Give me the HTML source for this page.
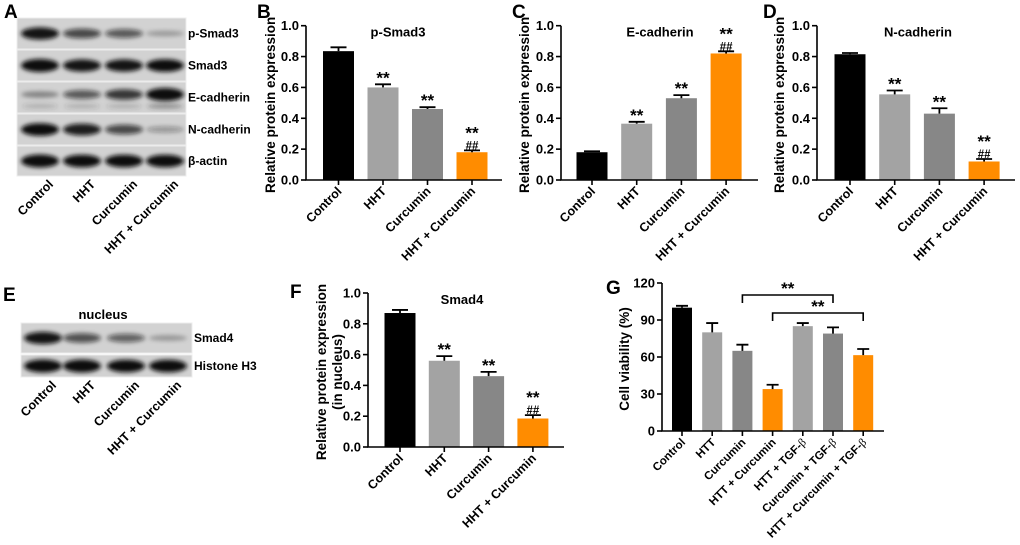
<!DOCTYPE html>
<html><head><meta charset="utf-8">
<style>
html,body{margin:0;padding:0;background:#fff;}
svg{display:block;font-family:"Liberation Sans",Arial,sans-serif;font-weight:bold;}
</style></head>
<body>
<svg id="fig" width="1020" height="545" viewBox="0 0 1020 545">
<defs>
<filter id="blur" x="-30%" y="-60%" width="160%" height="220%"><feGaussianBlur stdDeviation="2.2"/></filter>
</defs>
</svg>
<script>
// ===== Chart data =====
const groupsABCDF = ["Control","HHT","Curcumin","HHT + Curcumin"];
const pSmad3Vals = [0.835,0.60,0.46,0.18];
const pSmad3Err = [0.025,0.02,0.012,0.012];
const eCadVals = [0.18,0.365,0.53,0.82];
const eCadErr = [0.006,0.012,0.02,0.014];
const nCadVals = [0.815,0.555,0.43,0.12];
const nCadErr = [0.008,0.025,0.035,0.016];
const smad4Vals = [0.87,0.56,0.46,0.185];
const smad4Err = [0.02,0.03,0.028,0.022];
const yTicks01 = [0,0.2,0.4,0.6,0.8,1.0];
const groupsG = ["Control","HTT","Curcumin","HTT + Curcumin","HTT + TGF-\u03b2","Curcumin + TGF-\u03b2","HTT + Curcumin + TGF-\u03b2"];
const viabVals = [100,80,65,34,85,79,61.5];
const viabErr = [1.5,7.5,5,3.5,2.5,5,5];
const yTicksG = [0,30,60,90,120];

const NS="http://www.w3.org/2000/svg";
const svg=document.getElementById('fig');
function mk(tag,attrs,parent,txt){const e=document.createElementNS(NS,tag);for(const k in attrs)e.setAttribute(k,attrs[k]);if(txt!==undefined)e.textContent=txt;(parent||svg).appendChild(e);return e;}

const BLACK="#000",LG="#a3a3a3",DG="#878787",OR="#ff8c00";

function barChart(o){
  const g=mk('g',{});
  
  
  const ymax=o.ticks[o.ticks.length-1];
  const Y=v=>o.y0-(v/ymax)*(o.y0-o.y1);
  const X=i=>o.firstX+i*o.step;
  o.vals.forEach((v,i)=>{
    const b=mk('rect',{x:X(i)-o.bw/2,y:Y(v),width:o.bw,height:o.y0-Y(v),fill:o.colors[i]},g);
    
    
    const et=Y(v+o.err[i]);
    const e=mk('path',{d:`M${X(i)},${Y(v)}V${et}M${X(i)-o.cap},${et}H${X(i)+o.cap}`,stroke:'#000','stroke-width':1.8,fill:'none'},g);
    
    
    if(o.sig&&o.sig[i]){
      const two=o.sig2&&o.sig2[i];
      const s=mk('text',{x:X(i),y:et-(two?12:1),'text-anchor':'middle','font-size':17},g,o.sig[i]);
      
      
      if(two){
        const s2=mk('text',{x:X(i),y:et-1,'text-anchor':'middle','font-size':11.5},g,o.sig2[i]);
        
        
      }
    }
  });
  const ax=mk('path',{d:`M${o.ax},${o.y1}V${o.y0}H${o.xend}`,stroke:'#000','stroke-width':1.6,fill:'none'},g);
  
  
  o.ticks.forEach(t=>{
    mk('line',{x1:o.ax-5,x2:o.ax,y1:Y(t),y2:Y(t),stroke:'#000','stroke-width':1.6},g);
    const tl=mk('text',{x:o.ax-7,y:Y(t)+4.5,'text-anchor':'end','font-size':13},g,o.fmt(t));
    
    
  });
  o.cats.forEach((c,i)=>{
    mk('line',{x1:X(i),x2:X(i),y1:o.y0,y2:o.y0+5,stroke:'#000','stroke-width':1.6},g);
    const t=mk('text',{x:0,y:0,'text-anchor':'end','font-size':o.xfs||12.5,transform:`translate(${X(i)+4},${o.y0+12}) rotate(-45)`},g);
    
    
    const parts=c.split('\u03b2');
    t.textContent=parts[0];
    if(parts.length>1){mk('tspan',{'font-weight':'normal','font-family':'"Liberation Serif",serif'},t,'\u03b2');}
  });
  if(o.title){const t=mk('text',{x:o.titleX,y:o.y1+11,'text-anchor':'middle','font-size':13},g,o.title);
    }
  const yt=mk('text',{x:0,y:0,'text-anchor':'middle','font-size':13.5,transform:`translate(${o.ytx},${(o.y0+o.y1)/2+2}) rotate(-90)`},g);
  
  
  o.ytitle.forEach((line,k)=>{mk('tspan',{x:0,dy:k?16:0},yt,line);});
  const L=mk('text',{x:o.lx,y:o.ly,'font-size':19},g,o.letter);
  
  
  return {X,Y};
}
const f1=t=>t.toFixed(1);
const cols4=[BLACK,LG,DG,OR];
const sig4=["","**","**","**"], hash4=["","","","##"];

barChart({name:'chart-p-smad3',letter:'B',lx:257,ly:18,cats:groupsABCDF,vals:pSmad3Vals,err:pSmad3Err,colors:cols4,ticks:yTicks01,fmt:f1,
  ax:306,y0:180,y1:25.7,firstX:338.5,step:44.5,bw:31,cap:8,xend:502,title:'p-Smad3',titleX:398,ytitle:['Relative protein expression'],ytx:275,sig:sig4,sig2:hash4});
barChart({name:'chart-e-cadherin',letter:'C',lx:512,ly:18,cats:groupsABCDF,vals:eCadVals,err:eCadErr,colors:cols4,ticks:yTicks01,fmt:f1,
  ax:561,y0:180,y1:25.7,firstX:592,step:44.7,bw:31,cap:8,xend:758,title:'E-cadherin',titleX:660,ytitle:['Relative protein expression'],ytx:529,sig:sig4,sig2:hash4});
barChart({name:'chart-n-cadherin',letter:'D',lx:763,ly:18,cats:groupsABCDF,vals:nCadVals,err:nCadErr,colors:cols4,ticks:yTicks01,fmt:f1,
  ax:817,y0:180,y1:25.7,firstX:850,step:44.7,bw:31,cap:8,xend:1015,title:'N-cadherin',titleX:918,ytitle:['Relative protein expression'],ytx:784,sig:sig4,sig2:hash4});
barChart({name:'chart-smad4',letter:'F',lx:290,ly:298,cats:groupsABCDF,vals:smad4Vals,err:smad4Err,colors:cols4,ticks:yTicks01,fmt:f1,
  ax:368,y0:447,y1:293,firstX:400,step:44.3,bw:31,cap:8,xend:564,title:'Smad4',titleX:462,ytitle:['Relative protein expression','(in nucleus)'],ytx:326,sig:sig4,sig2:hash4});
const G=barChart({name:'chart-cell-viability',letter:'G',lx:606,ly:294,cats:groupsG,vals:viabVals,err:viabErr,colors:[BLACK,LG,DG,OR,LG,DG,OR],ticks:yTicksG,fmt:t=>String(t),
  ax:662,y0:431,y1:283,firstX:682,step:30.2,bw:20,cap:6,xend:884,title:null,ytitle:['Cell viability (%)'],ytx:629,xfs:11.5});
[[2,5,295],[3,6,313]].forEach(([a,b,y])=>{
  const p=mk('path',{d:`M${G.X(a)},${y+8}V${y}H${G.X(b)}V${y+8}`,stroke:'#000','stroke-width':1.6,fill:'none'});
  
  
  const t=mk('text',{x:(G.X(a)+G.X(b))/2,y:y-1,'text-anchor':'middle','font-size':17},svg,'**');
  
  
});

// ===== Blots =====
const lanes=["Control","HHT","Curcumin","HHT + Curcumin"];
function blot(o){
  const g=mk('g',{});
  
  
  o.rows.forEach(r=>{
    const bg=mk('rect',{x:o.x0,y:r.y,width:o.x1-o.x0,height:r.h,fill:'#d2d2d2',stroke:'#ececec','stroke-width':1},g);
    
    
    r.int.forEach((v,i)=>{
      if(v<=0)return;
      mk('ellipse',{cx:o.lanes[i],cy:r.y+r.h/2+(r.dy||0),rx:19,ry:2.5+4*v,fill:'#111','fill-opacity':Math.min(1,0.2+0.85*v),filter:'url(#blur)'},g);
      if(r.ghost) mk('ellipse',{cx:o.lanes[i],cy:r.y+r.h*0.78,rx:18,ry:2.5,fill:'#333','fill-opacity':0.2*r.ghost[i],filter:'url(#blur)'},g);
    });
    const t=mk('text',{x:o.x1+2,y:r.y+r.h/2+4,'font-size':12},g,r.label);
    
    
  });
  lanes.forEach((c,i)=>{
    const t=mk('text',{x:0,y:0,'text-anchor':'end','font-size':12.5,transform:`translate(${o.lanes[i]+14},${o.ly}) rotate(-45)`},g,c);
    
    
  });
}
blot({name:'western-blot-a',x0:17,x1:186,lanes:[40,82,124,165],ly:185,rows:[
  {y:18,h:31,label:'p-Smad3',int:[0.9,0.6,0.5,0.08]},
  {y:50,h:31,label:'Smad3',int:[1,0.9,0.9,0.95]},
  {y:82,h:31,label:'E-cadherin',int:[0.2,0.5,0.7,1],dy:-3,ghost:[1,1,1,2]},
  {y:114,h:31,label:'N-cadherin',int:[0.95,0.85,0.6,0.15]},
  {y:146,h:30,label:'\u03b2-actin',int:[1,0.95,0.95,0.95]}]});
blot({name:'western-blot-e',x0:21,x1:192,lanes:[43,82,126,168],ly:386,rows:[
  {y:323,h:30,label:'Smad4',int:[0.9,0.55,0.45,0.1]},
  {y:355,h:22,label:'Histone H3',int:[1,1,0.95,0.95]}]});
const A=mk('text',{x:4,y:18,'font-size':19},svg,'A');


const E=mk('text',{x:3,y:301,'font-size':19},svg,'E');


const nu=mk('text',{x:103,y:319,'text-anchor':'middle','font-size':13},svg,'nucleus');


</script>
</body></html>
